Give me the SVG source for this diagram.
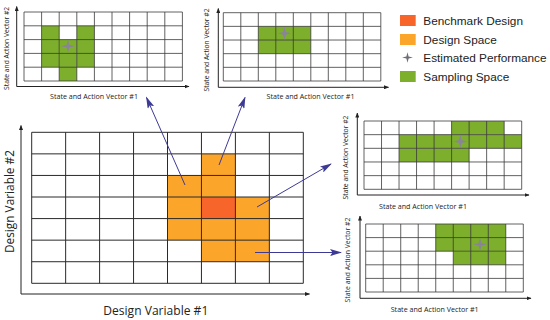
<svg xmlns="http://www.w3.org/2000/svg" width="550" height="320" viewBox="0 0 550 320">
<style>
.bg{fill:#ffffff}
.g{fill:#7DAF2C}
.o{fill:#FBA52B}
.r{fill:#F8652A}
.grid{fill:none;stroke:#3a3a3a;stroke-width:0.8}
.mgrid{fill:none;stroke:#2a2a2a;stroke-width:1}
.axis{fill:none;stroke:#222;stroke-width:1}
.star{fill:#8A8498}
.sl{font-family:"Open Sans","Liberation Sans",sans-serif;font-size:6.8px;fill:#222;text-anchor:middle}
.ml{font-family:"Open Sans","Liberation Sans",sans-serif;font-size:12px;fill:#222;text-anchor:middle}
.lg{font-family:"Liberation Sans",Arial,sans-serif;font-size:11.8px;fill:#222}
.conn{fill:none;stroke:#3D3A96;stroke-width:1}
</style>
<defs>
<marker id="ax" markerWidth="5" markerHeight="4" refX="4.5" refY="2" orient="auto" markerUnits="userSpaceOnUse">
<path d="M0,0 L5,2 L0,4 Z" fill="#222"/>
</marker>
<marker id="arr" markerWidth="12" markerHeight="7" refX="11" refY="3.5" orient="auto" markerUnits="userSpaceOnUse">
<path d="M0,0 L12,3.5 L0,7 L2.5,3.5 Z" fill="#3D3A96"/>
</marker>
<path id="st" d="M0,-6.5 L1.4,-1.4 L6.8,0 L1.4,1.4 L0,6.5 L-1.4,1.4 L-6.8,0 L-1.4,-1.4 Z"/>
</defs>

<!-- Top-left grid -->
<g id="grid-top-left">
<rect class="bg" x="24" y="12" width="158.4" height="69"/>
<rect class="g" x="41.6" y="25.8" width="17.6" height="41.4"/>
<rect class="g" x="59.2" y="39.6" width="17.6" height="41.4"/>
<rect class="g" x="76.8" y="25.8" width="17.6" height="41.4"/>
<path class="grid" d="M24,12H182.4V81H24Z M41.6,12V81 M59.2,12V81 M76.8,12V81 M94.4,12V81 M112,12V81 M129.6,12V81 M147.2,12V81 M164.8,12V81 M24,25.8H182.4 M24,39.6H182.4 M24,53.4H182.4 M24,67.2H182.4"/>
<use href="#st" class="star" x="68" y="46.2"/>
<path class="axis" d="M16.7,86.5V6.5" marker-end="url(#ax)"/>
<path class="axis" d="M16.7,86.5H189" marker-end="url(#ax)"/>
<text class="sl" x="94" y="99" textLength="88" lengthAdjust="spacingAndGlyphs">State and Action Vector #1</text>
<text class="sl" transform="translate(9,48.4) rotate(-90)" textLength="83" lengthAdjust="spacingAndGlyphs">State and Action Vector #2</text>
</g>

<!-- Top-middle grid -->
<g id="grid-top-middle">
<rect class="bg" x="223.3" y="12.7" width="157.5" height="68.3"/>
<rect class="g" x="258.3" y="26.36" width="52.5" height="27.32"/>
<path class="grid" d="M223.3,12.7H380.8V81H223.3Z M240.8,12.7V81 M258.3,12.7V81 M275.8,12.7V81 M293.3,12.7V81 M310.8,12.7V81 M328.3,12.7V81 M345.8,12.7V81 M363.3,12.7V81 M223.3,26.36H380.8 M223.3,40.02H380.8 M223.3,53.68H380.8 M223.3,67.34H380.8"/>
<use href="#st" class="star" x="284.5" y="33.3"/>
<path class="axis" d="M218.3,87.3V8.5" marker-end="url(#ax)"/>
<path class="axis" d="M218.3,87.3H388.5" marker-end="url(#ax)"/>
<text class="sl" x="310.5" y="99" textLength="88" lengthAdjust="spacingAndGlyphs">State and Action Vector #1</text>
<text class="sl" transform="translate(209,50) rotate(-90)" textLength="83" lengthAdjust="spacingAndGlyphs">State and Action Vector #2</text>
</g>

<!-- Legend -->
<g id="legend">
<rect class="r" x="400" y="15" width="15.7" height="11"/>
<text class="lg" x="423.3" y="25">Benchmark Design</text>
<rect class="o" x="400" y="34" width="15.7" height="11"/>
<text class="lg" x="423.3" y="43.6">Design Space</text>
<use href="#st" fill="#6f6f78" transform="translate(407.5,57.5) scale(0.8)"/>
<text class="lg" x="423.3" y="62.3">Estimated Performance</text>
<rect class="g" x="400" y="71" width="15.7" height="11"/>
<text class="lg" x="423.3" y="81">Sampling Space</text>
</g>

<!-- Main grid -->
<g id="main-grid">
<rect class="bg" x="31.7" y="132.3" width="271.6" height="151"/>
<rect class="o" x="167.5" y="175.44" width="33.95" height="64.71"/>
<rect class="o" x="201.45" y="153.87" width="33.95" height="107.85"/>
<rect class="o" x="235.4" y="197.01" width="33.95" height="64.71"/>
<rect class="r" x="201.45" y="197.01" width="33.95" height="21.57"/>
<path class="mgrid" d="M31.7,132.3H303.3V283.3H31.7Z M65.65,132.3V283.3 M99.6,132.3V283.3 M133.55,132.3V283.3 M167.5,132.3V283.3 M201.45,132.3V283.3 M235.4,132.3V283.3 M269.35,132.3V283.3 M31.7,153.87H303.3 M31.7,175.44H303.3 M31.7,197.01H303.3 M31.7,218.58H303.3 M31.7,240.15H303.3 M31.7,261.72H303.3"/>
<path class="axis" d="M21,294V125.5" marker-end="url(#ax)"/>
<path class="axis" d="M21,294H309.5" marker-end="url(#ax)"/>
<text class="ml" x="155.8" y="315" textLength="105" lengthAdjust="spacingAndGlyphs">Design Variable #1</text>
<text class="ml" transform="translate(14,201.5) rotate(-90)" textLength="103" lengthAdjust="spacingAndGlyphs">Design Variable #2</text>
</g>

<!-- Right-middle grid -->
<g id="grid-right-middle">
<rect class="bg" x="364" y="121" width="157.7" height="68.3"/>
<rect class="g" x="451.6" y="121" width="52.56" height="13.66"/>
<rect class="g" x="399.04" y="134.66" width="122.66" height="13.66"/>
<rect class="g" x="399.04" y="148.32" width="70.08" height="13.66"/>
<path class="grid" d="M364,121H521.7V189.3H364Z M381.52,121V189.3 M399.04,121V189.3 M416.56,121V189.3 M434.08,121V189.3 M451.6,121V189.3 M469.12,121V189.3 M486.64,121V189.3 M504.16,121V189.3 M364,134.66H521.7 M364,148.32H521.7 M364,161.98H521.7 M364,175.64H521.7"/>
<use href="#st" class="star" x="460.4" y="141.5"/>
<path class="axis" d="M357.3,195V113" marker-end="url(#ax)"/>
<path class="axis" d="M357.3,195H529" marker-end="url(#ax)"/>
<text class="sl" x="423" y="209.3" textLength="88" lengthAdjust="spacingAndGlyphs">State and Action Vector #1</text>
<text class="sl" transform="translate(348,157.5) rotate(-90)" textLength="84" lengthAdjust="spacingAndGlyphs">State and Action Vector #2</text>
</g>

<!-- Right-bottom grid -->
<g id="grid-right-bottom">
<rect class="bg" x="365.7" y="224" width="157.6" height="68"/>
<rect class="g" x="435.74" y="224" width="70.04" height="27.2"/>
<rect class="g" x="453.25" y="251.2" width="52.53" height="13.6"/>
<path class="grid" d="M365.7,224H523.3V292H365.7Z M383.21,224V292 M400.72,224V292 M418.23,224V292 M435.74,224V292 M453.25,224V292 M470.76,224V292 M488.27,224V292 M505.78,224V292 M365.7,237.6H523.3 M365.7,251.2H523.3 M365.7,264.8H523.3 M365.7,278.4H523.3"/>
<use href="#st" class="star" x="480" y="244.4"/>
<path class="axis" d="M360,298.3V216" marker-end="url(#ax)"/>
<path class="axis" d="M360,298.3H531" marker-end="url(#ax)"/>
<text class="sl" x="434.7" y="311.5" textLength="88" lengthAdjust="spacingAndGlyphs">State and Action Vector #1</text>
<text class="sl" transform="translate(349.5,260) rotate(-90)" textLength="85" lengthAdjust="spacingAndGlyphs">State and Action Vector #2</text>
</g>

<!-- Connectors -->
<g id="connectors">
<path class="conn" d="M185,185 L146.5,97.5" marker-end="url(#arr)"/>
<path class="conn" d="M219,165 L245,97.5" marker-end="url(#arr)"/>
<path class="conn" d="M257,207 L331,164" marker-end="url(#arr)"/>
<path class="conn" d="M255,252.5 L341,252.5" marker-end="url(#arr)"/>
</g>
</svg>
